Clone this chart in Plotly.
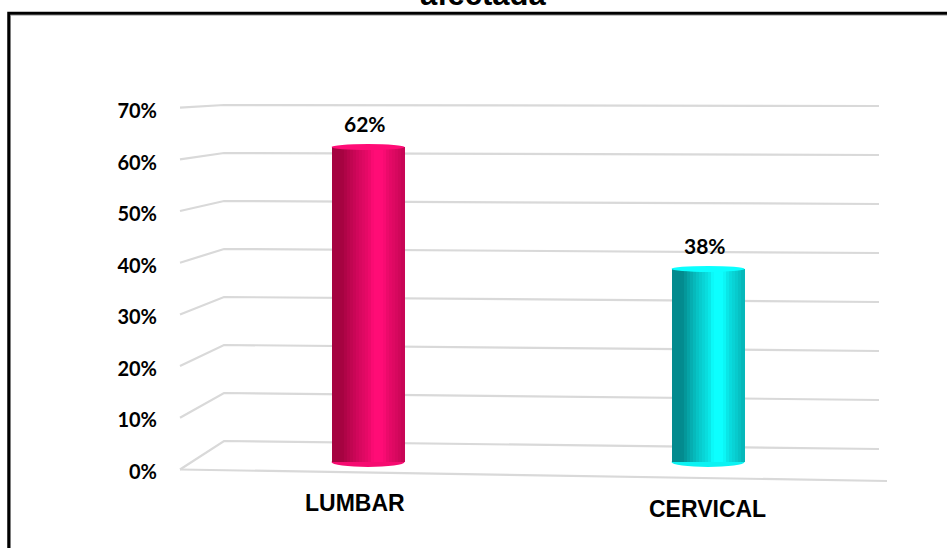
import math
import plotly.graph_objects as go

# ---- data -------------------------------------------------------------
CATEGORIES = ["LUMBAR", "CERVICAL"]
VALUES = [62, 38]                       # percent
TICK_VALUES = [0, 10, 20, 30, 40, 50, 60, 70]
TICK_TEXT = ["0%", "10%", "20%", "30%", "40%", "50%", "60%", "70%"]
TITLE_TEXT = "afectada"

# ---- styling ----------------------------------------------------------
DARK = [(140, 0, 50), (0, 105, 110)]
LIGHT = [(255, 12, 118), (12, 255, 255)]
GRID_COLOR = "#d9d9d9"
NUM_FONT = "Lato"
CAT_FONT = "Liberation Sans, Arial"

W, H = 947, 548
ML, MR, MT, MB = 198, 69, 95, 53
PLOT_W = W - ML - MR
PLOT_H = H - MT - MB
PLOT_BOTTOM = H - MB

# pseudo-3D perspective: each axis is defined by where 0 sits and its px per unit
FRONT_AXIS = (471.5, 5.15)   # tick labels / front edge of the walls
BAR_AXIS = (462.0, 5.08)     # cylinders stand midway in depth
BACK_AXIS = (441.0, 4.80)    # back wall gridlines
GRID_FRONT = (469.5, 5.17)   # left ends of the side-wall gridlines


def axis_range(zero_px, px_per_unit):
    lo = -(PLOT_BOTTOM - zero_px) / px_per_unit
    return [lo, lo + PLOT_H / px_per_unit]


def px_to_paper_x(px):
    return (px - ML) / PLOT_W


def px_to_paper_y(py):
    return (PLOT_BOTTOM - py) / PLOT_H


def px_to_back(py):
    return (BACK_AXIS[0] - py) / BACK_AXIS[1]


def shade(t, idx):
    """Cylinder shading across the bar width (t in 0..1, left to right)."""
    theta = (t - 0.5) * math.pi
    c = max(0.0, math.cos(theta - 0.45))
    i = min(1.0, 0.22 + 0.62 * c + 0.3 * c ** 24)
    d, l = DARK[idx], LIGHT[idx]
    r, g, b = (round(d[k] + (l[k] - d[k]) * i) for k in range(3))
    return f"rgb({r},{g},{b})"


fig = go.Figure()

# invisible traces keep the front and back axes alive
fig.add_trace(go.Scatter(x=CATEGORIES, y=[None, None], mode="none",
                         yaxis="y", hoverinfo="skip", showlegend=False))
fig.add_trace(go.Scatter(x=CATEGORIES, y=[None, None], mode="none",
                         yaxis="y3", hoverinfo="skip", showlegend=False))

# cylinders as stacks of thin shaded strips
BAR_W = 73 / 340
N_STRIPS = 24
for k in range(N_STRIPS):
    t = (k + 0.5) / N_STRIPS
    fig.add_trace(go.Bar(
        x=CATEGORIES, y=VALUES, yaxis="y2",
        offset=-BAR_W / 2 + k * BAR_W / N_STRIPS,
        width=BAR_W / N_STRIPS * 1.05,
        marker=dict(color=[shade(t, i) for i in range(len(CATEGORIES))],
                    line=dict(width=0)),
        hoverinfo="skip", showlegend=False,
    ))

shapes = []

# side + back wall gridlines
xf, xb, xr = px_to_paper_x(180), px_to_paper_x(224), px_to_paper_x(879)
for v in TICK_VALUES:
    front = px_to_back(GRID_FRONT[0] - GRID_FRONT[1] * v)
    drop = (8 - 0.1 * v) / BACK_AXIS[1]
    shapes.append(dict(type="path", xref="paper", yref="y3", layer="below",
                       path=f"M {xf},{front} L {xb},{v} L {xr},{v - drop}",
                       line=dict(color=GRID_COLOR, width=2.2)))
# front edge of the floor
shapes.append(dict(type="line", xref="paper", yref="y3", layer="below",
                   x0=xf, y0=px_to_back(GRID_FRONT[0]),
                   x1=px_to_paper_x(887), y1=px_to_back(481),
                   line=dict(color=GRID_COLOR, width=2.2)))

# elliptical caps of the cylinders
for i, v in enumerate(VALUES):
    shapes.append(dict(type="circle", xref="x", yref="y2", layer="below",
                       x0=i - BAR_W / 2, x1=i + BAR_W / 2,
                       ysizemode="pixel", yanchor=0, y0=-5, y1=5,
                       fillcolor=shade(0.55, i), line=dict(width=0)))
    shapes.append(dict(type="circle", xref="x", yref="y2", layer="above",
                       x0=i - BAR_W / 2, x1=i + BAR_W / 2,
                       ysizemode="pixel", yanchor=v, y0=-3, y1=3,
                       fillcolor=shade(0.6, i), line=dict(width=0)))

# chart frame with a soft shadow
shapes.append(dict(type="rect", xref="paper", yref="paper",
                   x0=px_to_paper_x(10.5), x1=px_to_paper_x(990),
                   y0=px_to_paper_y(600), y1=px_to_paper_y(15.2),
                   line=dict(color="#a8a8a8", width=1)))
shapes.append(dict(type="rect", xref="paper", yref="paper",
                   x0=px_to_paper_x(8.75), x1=px_to_paper_x(990),
                   y0=px_to_paper_y(600), y1=px_to_paper_y(13.3),
                   line=dict(color="#000000", width=3)))

annotations = []
# value labels above each cylinder
for i, v in enumerate(VALUES):
    annotations.append(dict(x=CATEGORIES[i], y=v, xref="x", yref="y2",
                            text=f"<b>{v}%</b>", showarrow=False,
                            yanchor="bottom", yshift=9, xshift=-3,
                            font=dict(family=NUM_FONT, size=21, color="#000")))

# category labels sit on the perspective floor
LABEL_SHIFT = [(-13, 503), (-1, 509)]
for i, cat in enumerate(CATEGORIES):
    dx, py = LABEL_SHIFT[i]
    annotations.append(dict(x=cat, y=px_to_paper_y(py), xref="x", yref="paper",
                            text=f"<b>{cat}</b>", showarrow=False,
                            xshift=dx, yanchor="middle",
                            font=dict(family=CAT_FONT, size=23, color="#000")))

# title (its upper part runs off the top of the page)
annotations.append(dict(x=px_to_paper_x(483), y=px_to_paper_y(14), xref="paper",
                        yref="paper", text=f"<b>{TITLE_TEXT}</b>", showarrow=False,
                        yanchor="bottom", xanchor="center",
                        font=dict(family=CAT_FONT, size=31, color="#000")))

fig.update_layout(
    width=W, height=H,
    margin=dict(l=ML, r=MR, t=MT, b=MB),
    paper_bgcolor="white", plot_bgcolor="white",
    barmode="overlay", bargap=0,
    showlegend=False,
    xaxis=dict(type="category", range=[-0.5, 1.5], showgrid=False,
               zeroline=False, showline=False, showticklabels=False, ticks=""),
    yaxis=dict(range=axis_range(*FRONT_AXIS), tickmode="array",
               tickvals=TICK_VALUES, ticktext=TICK_TEXT,
               showgrid=False, zeroline=False, showline=False,
               ticks="", ticklabelstandoff=40,
               tickfont=dict(family=NUM_FONT, size=20, color="#000", weight="bold")),
    yaxis2=dict(range=axis_range(*BAR_AXIS), overlaying="y", visible=False),
    yaxis3=dict(range=axis_range(*BACK_AXIS), overlaying="y", visible=False),
    shapes=shapes,
    annotations=annotations,
)

fig.write_html("out.html")
